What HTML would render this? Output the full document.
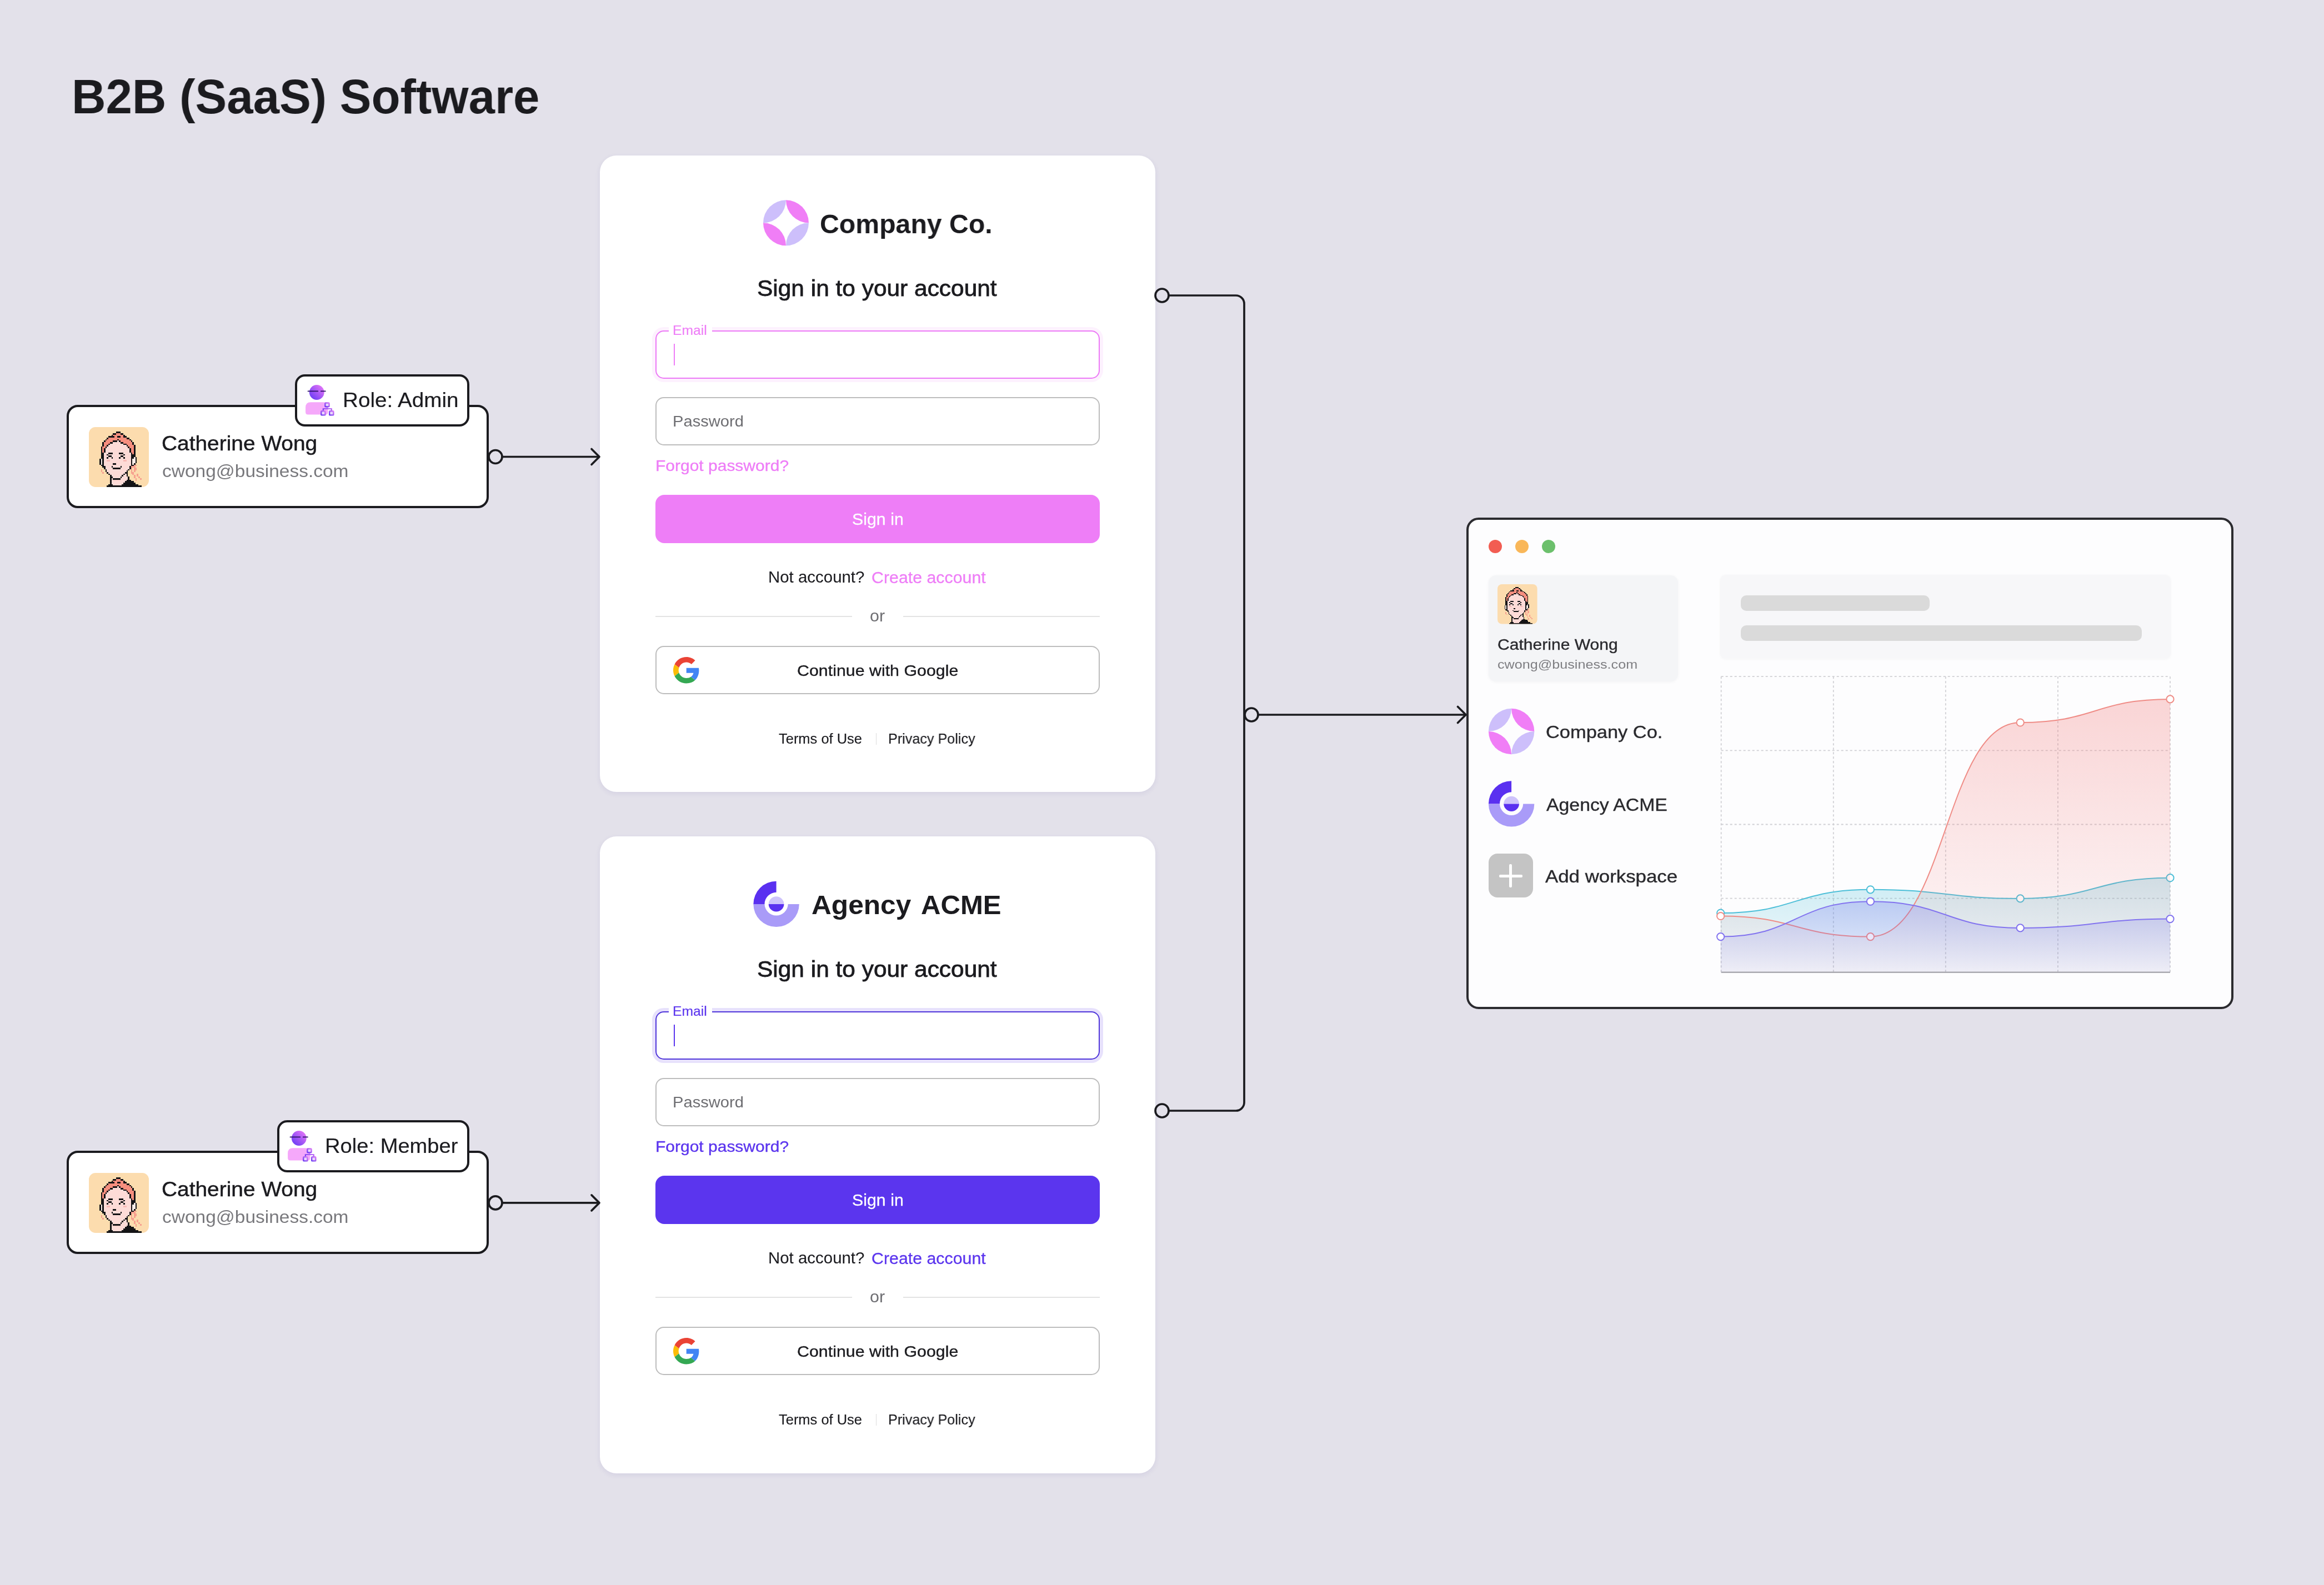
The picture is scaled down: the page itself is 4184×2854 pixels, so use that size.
<!DOCTYPE html>
<html><head><meta charset="utf-8"><title>B2B (SaaS) Software</title>
<style>
html,body{margin:0;padding:0}
body{width:4184px;height:2854px;background:#E3E1EA;position:relative;overflow:hidden;font-family:"Liberation Sans",sans-serif}
.t{position:absolute;white-space:nowrap;line-height:1;transform-origin:0 0;will-change:transform}
.abs{position:absolute;box-sizing:border-box}
svg{position:absolute;overflow:visible}
</style></head><body>

<div class="abs" style="left:1080px;top:280px;width:1000px;height:1146px;background:#fff;border-radius:30px;box-shadow:0 3px 10px rgba(70,50,150,0.09)"></div>
<svg style="left:0;top:0" width="4184" height="2854"><path fill="#F07EF6" d="M1415.00,360.30 A41,41 0 0 1 1456.00,401.30 A41,41 0 0 1 1415.00,360.30 Z"/><path fill="#CDBFFB" d="M1415.00,360.30 A41,41 0 0 0 1374.00,401.30 A41,41 0 0 0 1415.00,360.30 Z"/><path fill="#F07EF6" d="M1415.00,442.30 A41,41 0 0 1 1374.00,401.30 A41,41 0 0 1 1415.00,442.30 Z"/><path fill="#CDBFFB" d="M1415.00,442.30 A41,41 0 0 0 1456.00,401.30 A41,41 0 0 0 1415.00,442.30 Z"/></svg>
<div class="abs" style="left:1180px;top:594.5px;width:800px;height:87px;border:2.4px solid #EC7AF6;border-radius:15px;box-shadow:0 0 0 6px rgba(238,126,247,0.11)"></div>
<div class="abs" style="left:1204px;top:585px;width:78px;height:15px;background:#fff"></div>
<div class="abs" style="left:1212.5px;top:619px;width:2.5px;height:39px;background:#EE7EF7"></div>
<div class="abs" style="left:1180px;top:715px;width:800px;height:86.5px;border:2.5px solid #BDBDBD;border-radius:15px"></div>
<div class="abs" style="left:1180px;top:890.5px;width:800px;height:87.5px;background:#EE7EF7;border-radius:16px"></div>
<div class="abs" style="left:1180px;top:1109px;width:353.7px;height:2px;background:#E3E3E3"></div>
<div class="abs" style="left:1626px;top:1109px;width:354px;height:2px;background:#E3E3E3"></div>
<div class="abs" style="left:1180px;top:1163px;width:800px;height:86.5px;border:2.5px solid #BDBDBD;border-radius:15px"></div>
<svg style="left:1211.8px;top:1182.7px" width="47.4" height="47.6" viewBox="0 0 48 48"><path fill="#EA4335" d="M24 9.5c3.54 0 6.71 1.22 9.21 3.6l6.85-6.85C35.9 2.38 30.47 0 24 0 14.62 0 6.51 5.38 2.56 13.22l7.98 6.19C12.43 13.72 17.74 9.5 24 9.5z"/><path fill="#4285F4" d="M46.98 24.55c0-1.570-.15-3.09-.38-4.55H24v9.02h12.94c-.58 2.96-2.26 5.48-4.78 7.18l7.73 6c4.51-4.18 7.09-10.36 7.09-17.65z"/><path fill="#FBBC05" d="M10.53 28.59c-.48-1.45-.76-2.990-.76-4.59s.27-3.14.76-4.59l-7.98-6.19C.92 16.46 0 20.12 0 24c0 3.88.92 7.54 2.56 10.78l7.97-6.19z"/><path fill="#34A853" d="M24 48c6.48 0 11.93-2.13 15.89-5.81l-7.730-6c-2.15 1.45-4.92 2.3-8.16 2.3-6.26 0-11.57-4.22-13.47-9.91l-7.98 6.19C6.51 42.62 14.62 48 24 48z"/></svg>
<div class="abs" style="left:1576.5px;top:1320px;width:1.5px;height:21px;background:#DCDCDC"></div>
<div class="abs" style="left:1080px;top:1506px;width:1000px;height:1147px;background:#fff;border-radius:30px;box-shadow:0 3px 10px rgba(70,50,150,0.09)"></div>
<svg style="left:0;top:0" width="4184" height="2854"><path fill="#5A30F0" d="M1356.40,1627.90 A41.2,41.2 0 0 1 1397.60,1586.70 L1397.60,1606.81 A21.0944,21.0944 0 0 0 1376.51,1627.90 Z"/><path fill="#A99BF8" d="M1356.40,1627.90 A41.2,41.2 0 0 0 1438.80,1627.90 L1418.69,1627.90 A21.0944,21.0944 0 0 1 1376.51,1627.90 Z"/><path fill="#CEC3FB" d="M1383.72,1627.90 A13.884400000000001,13.884400000000001 0 0 1 1411.48,1627.90 Z"/><path fill="#5A30F0" d="M1383.72,1627.90 A13.884400000000001,13.884400000000001 0 0 0 1411.48,1627.90 Z"/></svg>
<div class="abs" style="left:1180px;top:1820.5px;width:800px;height:87px;border:2.4px solid #5036DA;border-radius:15px;box-shadow:0 0 0 6px rgba(91,53,238,0.15)"></div>
<div class="abs" style="left:1204px;top:1811px;width:78px;height:15px;background:#fff"></div>
<div class="abs" style="left:1212.5px;top:1845px;width:2.5px;height:39px;background:#5B35EE"></div>
<div class="abs" style="left:1180px;top:1941px;width:800px;height:86.5px;border:2.5px solid #BDBDBD;border-radius:15px"></div>
<div class="abs" style="left:1180px;top:2116.5px;width:800px;height:87.5px;background:#5B35EE;border-radius:16px"></div>
<div class="abs" style="left:1180px;top:2335px;width:353.7px;height:2px;background:#E3E3E3"></div>
<div class="abs" style="left:1626px;top:2335px;width:354px;height:2px;background:#E3E3E3"></div>
<div class="abs" style="left:1180px;top:2389px;width:800px;height:86.5px;border:2.5px solid #BDBDBD;border-radius:15px"></div>
<svg style="left:1211.8px;top:2408.7px" width="47.4" height="47.6" viewBox="0 0 48 48"><path fill="#EA4335" d="M24 9.5c3.54 0 6.71 1.22 9.21 3.6l6.85-6.85C35.9 2.38 30.47 0 24 0 14.62 0 6.51 5.38 2.56 13.22l7.98 6.19C12.43 13.72 17.74 9.5 24 9.5z"/><path fill="#4285F4" d="M46.98 24.55c0-1.570-.15-3.09-.38-4.55H24v9.02h12.94c-.58 2.96-2.26 5.48-4.78 7.18l7.73 6c4.51-4.18 7.09-10.36 7.09-17.65z"/><path fill="#FBBC05" d="M10.53 28.59c-.48-1.45-.76-2.990-.76-4.59s.27-3.14.76-4.59l-7.98-6.19C.92 16.46 0 20.12 0 24c0 3.88.92 7.54 2.56 10.78l7.97-6.19z"/><path fill="#34A853" d="M24 48c6.48 0 11.93-2.13 15.89-5.81l-7.730-6c-2.15 1.45-4.92 2.3-8.16 2.3-6.26 0-11.57-4.22-13.47-9.91l-7.98 6.19C6.51 42.62 14.62 48 24 48z"/></svg>
<div class="abs" style="left:1576.5px;top:2546px;width:1.5px;height:21px;background:#DCDCDC"></div>
<div class="abs" style="left:120px;top:729px;width:760px;height:186px;background:#fff;border:4px solid #1B1B1F;border-radius:20px"></div>
<svg style="left:160.2px;top:768.5px" width="108" height="108" viewBox="0 0 40 40" shape-rendering="crispEdges"><defs><clipPath id="av160768"><rect width="40" height="40" rx="4.40" shape-rendering="geometricPrecision"/></clipPath></defs><g clip-path="url(#av160768)"><rect width="40" height="40" fill="#FCDCAE"/><rect x="18" y="3" width="3" height="1" fill="#141416"/><rect x="16" y="4" width="2" height="1" fill="#141416"/><rect x="18" y="4" width="3" height="1" fill="#F68E7E"/><rect x="21" y="4" width="2" height="1" fill="#141416"/><rect x="15" y="5" width="1" height="1" fill="#141416"/><rect x="16" y="5" width="7" height="1" fill="#F68E7E"/><rect x="23" y="5" width="1" height="1" fill="#141416"/><rect x="13" y="6" width="4" height="1" fill="#141416"/><rect x="17" y="6" width="2" height="1" fill="#F68E7E"/><rect x="19" y="6" width="2" height="1" fill="#141416"/><rect x="21" y="6" width="2" height="1" fill="#F68E7E"/><rect x="23" y="6" width="2" height="1" fill="#141416"/><rect x="12" y="7" width="1" height="1" fill="#141416"/><rect x="13" y="7" width="12" height="1" fill="#F68E7E"/><rect x="25" y="7" width="2" height="1" fill="#141416"/><rect x="11" y="8" width="1" height="1" fill="#141416"/><rect x="12" y="8" width="7" height="1" fill="#F68E7E"/><rect x="19" y="8" width="1" height="1" fill="#141416"/><rect x="20" y="8" width="7" height="1" fill="#F68E7E"/><rect x="27" y="8" width="1" height="1" fill="#141416"/><rect x="10" y="9" width="1" height="1" fill="#141416"/><rect x="11" y="9" width="5" height="1" fill="#F68E7E"/><rect x="16" y="9" width="3" height="1" fill="#141416"/><rect x="19" y="9" width="1" height="1" fill="#FDDBD7"/><rect x="20" y="9" width="1" height="1" fill="#141416"/><rect x="21" y="9" width="7" height="1" fill="#F68E7E"/><rect x="28" y="9" width="1" height="1" fill="#141416"/><rect x="9" y="10" width="1" height="1" fill="#141416"/><rect x="10" y="10" width="4" height="1" fill="#F68E7E"/><rect x="14" y="10" width="2" height="1" fill="#141416"/><rect x="16" y="10" width="5" height="1" fill="#FDDBD7"/><rect x="21" y="10" width="2" height="1" fill="#141416"/><rect x="23" y="10" width="6" height="1" fill="#F68E7E"/><rect x="29" y="10" width="1" height="1" fill="#141416"/><rect x="9" y="11" width="1" height="1" fill="#141416"/><rect x="10" y="11" width="3" height="1" fill="#F68E7E"/><rect x="13" y="11" width="1" height="1" fill="#141416"/><rect x="14" y="11" width="9" height="1" fill="#FDDBD7"/><rect x="23" y="11" width="2" height="1" fill="#141416"/><rect x="25" y="11" width="4" height="1" fill="#F68E7E"/><rect x="29" y="11" width="1" height="1" fill="#141416"/><rect x="9" y="12" width="1" height="1" fill="#141416"/><rect x="10" y="12" width="2" height="1" fill="#F68E7E"/><rect x="12" y="12" width="1" height="1" fill="#141416"/><rect x="13" y="12" width="12" height="1" fill="#FDDBD7"/><rect x="25" y="12" width="1" height="1" fill="#141416"/><rect x="26" y="12" width="4" height="1" fill="#F68E7E"/><rect x="30" y="12" width="1" height="1" fill="#141416"/><rect x="8" y="13" width="1" height="1" fill="#141416"/><rect x="9" y="13" width="2" height="1" fill="#F68E7E"/><rect x="11" y="13" width="1" height="1" fill="#141416"/><rect x="12" y="13" width="14" height="1" fill="#FDDBD7"/><rect x="26" y="13" width="1" height="1" fill="#141416"/><rect x="27" y="13" width="3" height="1" fill="#F68E7E"/><rect x="30" y="13" width="1" height="1" fill="#141416"/><rect x="8" y="14" width="1" height="1" fill="#141416"/><rect x="9" y="14" width="1" height="1" fill="#F68E7E"/><rect x="10" y="14" width="1" height="1" fill="#141416"/><rect x="11" y="14" width="16" height="1" fill="#FDDBD7"/><rect x="27" y="14" width="1" height="1" fill="#141416"/><rect x="28" y="14" width="2" height="1" fill="#F68E7E"/><rect x="30" y="14" width="1" height="1" fill="#141416"/><rect x="8" y="15" width="1" height="1" fill="#141416"/><rect x="9" y="15" width="1" height="1" fill="#F68E7E"/><rect x="10" y="15" width="1" height="1" fill="#141416"/><rect x="11" y="15" width="16" height="1" fill="#FDDBD7"/><rect x="27" y="15" width="1" height="1" fill="#141416"/><rect x="28" y="15" width="2" height="1" fill="#F68E7E"/><rect x="30" y="15" width="1" height="1" fill="#141416"/><rect x="8" y="16" width="1" height="1" fill="#141416"/><rect x="9" y="16" width="1" height="1" fill="#F68E7E"/><rect x="10" y="16" width="1" height="1" fill="#141416"/><rect x="11" y="16" width="16" height="1" fill="#FDDBD7"/><rect x="27" y="16" width="1" height="1" fill="#141416"/><rect x="28" y="16" width="2" height="1" fill="#F68E7E"/><rect x="30" y="16" width="1" height="1" fill="#141416"/><rect x="8" y="17" width="2" height="1" fill="#141416"/><rect x="10" y="17" width="3" height="1" fill="#FDDBD7"/><rect x="13" y="17" width="3" height="1" fill="#141416"/><rect x="16" y="17" width="4" height="1" fill="#FDDBD7"/><rect x="20" y="17" width="3" height="1" fill="#141416"/><rect x="23" y="17" width="5" height="1" fill="#FDDBD7"/><rect x="28" y="17" width="1" height="1" fill="#141416"/><rect x="29" y="17" width="1" height="1" fill="#F68E7E"/><rect x="30" y="17" width="1" height="1" fill="#141416"/><rect x="8" y="18" width="2" height="1" fill="#141416"/><rect x="10" y="18" width="2" height="1" fill="#FDDBD7"/><rect x="12" y="18" width="1" height="1" fill="#141416"/><rect x="13" y="18" width="10" height="1" fill="#FDDBD7"/><rect x="23" y="18" width="1" height="1" fill="#141416"/><rect x="24" y="18" width="4" height="1" fill="#FDDBD7"/><rect x="28" y="18" width="3" height="1" fill="#141416"/><rect x="8" y="19" width="2" height="1" fill="#141416"/><rect x="10" y="19" width="3" height="1" fill="#FDDBD7"/><rect x="13" y="19" width="2" height="1" fill="#141416"/><rect x="15" y="19" width="6" height="1" fill="#FDDBD7"/><rect x="21" y="19" width="2" height="1" fill="#141416"/><rect x="23" y="19" width="5" height="1" fill="#FDDBD7"/><rect x="28" y="19" width="3" height="1" fill="#141416"/><rect x="8" y="20" width="2" height="1" fill="#141416"/><rect x="10" y="20" width="2" height="1" fill="#FDDBD7"/><rect x="12" y="20" width="1" height="1" fill="#141416"/><rect x="13" y="20" width="2" height="1" fill="#FDDBD7"/><rect x="15" y="20" width="1" height="1" fill="#141416"/><rect x="16" y="20" width="4" height="1" fill="#FDDBD7"/><rect x="20" y="20" width="1" height="1" fill="#141416"/><rect x="21" y="20" width="2" height="1" fill="#FDDBD7"/><rect x="23" y="20" width="1" height="1" fill="#141416"/><rect x="24" y="20" width="4" height="1" fill="#FDDBD7"/><rect x="28" y="20" width="2" height="1" fill="#141416"/><rect x="30" y="20" width="1" height="1" fill="#FCEDE8"/><rect x="31" y="20" width="1" height="1" fill="#141416"/><rect x="7" y="21" width="1" height="1" fill="#141416"/><rect x="8" y="21" width="1" height="1" fill="#FCEDE8"/><rect x="9" y="21" width="1" height="1" fill="#141416"/><rect x="10" y="21" width="18" height="1" fill="#FDDBD7"/><rect x="28" y="21" width="1" height="1" fill="#141416"/><rect x="29" y="21" width="2" height="1" fill="#FCEDE8"/><rect x="31" y="21" width="1" height="1" fill="#141416"/><rect x="7" y="22" width="1" height="1" fill="#141416"/><rect x="8" y="22" width="1" height="1" fill="#FCEDE8"/><rect x="9" y="22" width="1" height="1" fill="#141416"/><rect x="10" y="22" width="2" height="1" fill="#FDDBD7"/><rect x="12" y="22" width="2" height="1" fill="#F8BAB6"/><rect x="14" y="22" width="9" height="1" fill="#FDDBD7"/><rect x="23" y="22" width="2" height="1" fill="#F8BAB6"/><rect x="25" y="22" width="3" height="1" fill="#FDDBD7"/><rect x="28" y="22" width="1" height="1" fill="#141416"/><rect x="29" y="22" width="2" height="1" fill="#FCEDE8"/><rect x="31" y="22" width="1" height="1" fill="#141416"/><rect x="7" y="23" width="1" height="1" fill="#141416"/><rect x="8" y="23" width="1" height="1" fill="#FCEDE8"/><rect x="9" y="23" width="1" height="1" fill="#141416"/><rect x="10" y="23" width="18" height="1" fill="#FDDBD7"/><rect x="28" y="23" width="1" height="1" fill="#141416"/><rect x="29" y="23" width="2" height="1" fill="#FCEDE8"/><rect x="31" y="23" width="1" height="1" fill="#141416"/><rect x="7" y="24" width="1" height="1" fill="#141416"/><rect x="8" y="24" width="1" height="1" fill="#FCEDE8"/><rect x="9" y="24" width="1" height="1" fill="#141416"/><rect x="10" y="24" width="6" height="1" fill="#FDDBD7"/><rect x="16" y="24" width="2" height="1" fill="#141416"/><rect x="18" y="24" width="10" height="1" fill="#FDDBD7"/><rect x="28" y="24" width="1" height="1" fill="#141416"/><rect x="29" y="24" width="1" height="1" fill="#FCEDE8"/><rect x="30" y="24" width="1" height="1" fill="#141416"/><rect x="8" y="25" width="2" height="1" fill="#141416"/><rect x="10" y="25" width="18" height="1" fill="#FDDBD7"/><rect x="28" y="25" width="2" height="1" fill="#141416"/><rect x="30" y="25" width="2" height="1" fill="#F7A08F"/><rect x="9" y="26" width="2" height="1" fill="#141416"/><rect x="11" y="26" width="4" height="1" fill="#FDDBD7"/><rect x="15" y="26" width="1" height="1" fill="#141416"/><rect x="16" y="26" width="5" height="1" fill="#FDDBD7"/><rect x="21" y="26" width="1" height="1" fill="#141416"/><rect x="22" y="26" width="5" height="1" fill="#FDDBD7"/><rect x="27" y="26" width="1" height="1" fill="#141416"/><rect x="28" y="26" width="3" height="1" fill="#F7A08F"/><rect x="10" y="27" width="1" height="1" fill="#141416"/><rect x="11" y="27" width="5" height="1" fill="#FDDBD7"/><rect x="16" y="27" width="5" height="1" fill="#141416"/><rect x="21" y="27" width="6" height="1" fill="#FDDBD7"/><rect x="27" y="27" width="1" height="1" fill="#141416"/><rect x="28" y="27" width="1" height="1" fill="#F7A08F"/><rect x="30" y="27" width="2" height="1" fill="#F7A08F"/><rect x="8" y="28" width="1" height="1" fill="#F7A08F"/><rect x="11" y="28" width="1" height="1" fill="#141416"/><rect x="12" y="28" width="14" height="1" fill="#FDDBD7"/><rect x="26" y="28" width="1" height="1" fill="#141416"/><rect x="28" y="28" width="1" height="1" fill="#F7A08F"/><rect x="30" y="28" width="2" height="1" fill="#F7A08F"/><rect x="8" y="29" width="1" height="1" fill="#F7A08F"/><rect x="11" y="29" width="1" height="1" fill="#141416"/><rect x="12" y="29" width="13" height="1" fill="#FDDBD7"/><rect x="25" y="29" width="1" height="1" fill="#141416"/><rect x="28" y="29" width="1" height="1" fill="#F7A08F"/><rect x="30" y="29" width="1" height="1" fill="#F7A08F"/><rect x="9" y="30" width="1" height="1" fill="#F7A08F"/><rect x="12" y="30" width="1" height="1" fill="#141416"/><rect x="13" y="30" width="11" height="1" fill="#FDDBD7"/><rect x="24" y="30" width="2" height="1" fill="#141416"/><rect x="28" y="30" width="2" height="1" fill="#F7A08F"/><rect x="13" y="31" width="1" height="1" fill="#141416"/><rect x="14" y="31" width="9" height="1" fill="#FDDBD7"/><rect x="23" y="31" width="1" height="1" fill="#141416"/><rect x="24" y="31" width="1" height="1" fill="#FDDBD7"/><rect x="25" y="31" width="1" height="1" fill="#141416"/><rect x="29" y="31" width="1" height="1" fill="#F7A08F"/><rect x="32" y="31" width="1" height="1" fill="#F7A08F"/><rect x="14" y="32" width="1" height="1" fill="#141416"/><rect x="15" y="32" width="7" height="1" fill="#FDDBD7"/><rect x="22" y="32" width="1" height="1" fill="#141416"/><rect x="23" y="32" width="2" height="1" fill="#FDDBD7"/><rect x="25" y="32" width="1" height="1" fill="#141416"/><rect x="30" y="32" width="1" height="1" fill="#F7A08F"/><rect x="32" y="32" width="1" height="1" fill="#F7A08F"/><rect x="14" y="33" width="2" height="1" fill="#141416"/><rect x="16" y="33" width="5" height="1" fill="#FDDBD7"/><rect x="21" y="33" width="1" height="1" fill="#141416"/><rect x="22" y="33" width="4" height="1" fill="#FDDBD7"/><rect x="26" y="33" width="1" height="1" fill="#141416"/><rect x="30" y="33" width="1" height="1" fill="#F7A08F"/><rect x="33" y="33" width="1" height="1" fill="#F7A08F"/><rect x="14" y="34" width="1" height="1" fill="#141416"/><rect x="15" y="34" width="1" height="1" fill="#FDDBD7"/><rect x="16" y="34" width="5" height="1" fill="#141416"/><rect x="21" y="34" width="5" height="1" fill="#FDDBD7"/><rect x="26" y="34" width="1" height="1" fill="#141416"/><rect x="31" y="34" width="1" height="1" fill="#F7A08F"/><rect x="34" y="34" width="1" height="1" fill="#F7A08F"/><rect x="14" y="35" width="1" height="1" fill="#141416"/><rect x="15" y="35" width="1" height="1" fill="#FDDBD7"/><rect x="16" y="35" width="5" height="1" fill="#F8CFCB"/><rect x="21" y="35" width="4" height="1" fill="#FDDBD7"/><rect x="25" y="35" width="3" height="1" fill="#141416"/><rect x="31" y="35" width="1" height="1" fill="#F7A08F"/><rect x="14" y="36" width="1" height="1" fill="#141416"/><rect x="15" y="36" width="9" height="1" fill="#FDDBD7"/><rect x="24" y="36" width="6" height="1" fill="#141416"/><rect x="14" y="37" width="1" height="1" fill="#141416"/><rect x="15" y="37" width="8" height="1" fill="#FDDBD7"/><rect x="23" y="37" width="8" height="1" fill="#141416"/><rect x="13" y="38" width="3" height="1" fill="#141416"/><rect x="16" y="38" width="6" height="1" fill="#FDDBD7"/><rect x="22" y="38" width="11" height="1" fill="#141416"/><rect x="12" y="39" width="23" height="1" fill="#141416"/></g></svg>
<div class="abs" style="left:531px;top:674px;width:314.3px;height:93.7px;background:#fff;border:4px solid #1B1B1F;border-radius:18px"></div>
<svg style="left:540px;top:680px" width="80" height="80" viewBox="0 0 80 80"><defs><linearGradient id="rh680" x1="0" y1="1" x2="1" y2="0"><stop offset="0" stop-color="#5B35F5"/><stop offset="1" stop-color="#F37CF7"/></linearGradient><linearGradient id="rs680" x1="0" y1="1" x2="1" y2="0"><stop offset="0" stop-color="#6A3CF2"/><stop offset="1" stop-color="#D97CF6"/></linearGradient></defs><circle cx="30.3" cy="26.5" r="13.4" fill="url(#rh680)"/><path d="M14.6,24.4 H32.2 M37.9,24.4 H45.8" stroke="#2A1166" stroke-width="1.9" stroke-linecap="round"/><path d="M19.5,44.2 H42 Q50.5,44.2 50.5,52 V62 Q50.5,66.6 46,66.6 H14.5 Q10.1,66.6 10.1,62 V53.6 Q10.1,44.2 19.5,44.2 Z" fill="#F5A8FA"/><g stroke="url(#rs680)" stroke-width="2.4" fill="#EBD8FB"><rect x="45.4" y="45.5" width="7.2" height="6.8" rx="1"/><rect x="38.3" y="60.2" width="7.2" height="7.2" rx="1"/><rect x="53.2" y="60.2" width="7.2" height="7.2" rx="1"/></g><path d="M49,53.5 V56 M41.9,59 V56 H56.8 V59" stroke="url(#rs680)" stroke-width="2.2" fill="none"/></svg>
<div class="abs" style="left:120px;top:2072.4px;width:760px;height:186px;background:#fff;border:4px solid #1B1B1F;border-radius:20px"></div>
<svg style="left:160.2px;top:2111.9px" width="108" height="108" viewBox="0 0 40 40" shape-rendering="crispEdges"><defs><clipPath id="av1602111"><rect width="40" height="40" rx="4.40" shape-rendering="geometricPrecision"/></clipPath></defs><g clip-path="url(#av1602111)"><rect width="40" height="40" fill="#FCDCAE"/><rect x="18" y="3" width="3" height="1" fill="#141416"/><rect x="16" y="4" width="2" height="1" fill="#141416"/><rect x="18" y="4" width="3" height="1" fill="#F68E7E"/><rect x="21" y="4" width="2" height="1" fill="#141416"/><rect x="15" y="5" width="1" height="1" fill="#141416"/><rect x="16" y="5" width="7" height="1" fill="#F68E7E"/><rect x="23" y="5" width="1" height="1" fill="#141416"/><rect x="13" y="6" width="4" height="1" fill="#141416"/><rect x="17" y="6" width="2" height="1" fill="#F68E7E"/><rect x="19" y="6" width="2" height="1" fill="#141416"/><rect x="21" y="6" width="2" height="1" fill="#F68E7E"/><rect x="23" y="6" width="2" height="1" fill="#141416"/><rect x="12" y="7" width="1" height="1" fill="#141416"/><rect x="13" y="7" width="12" height="1" fill="#F68E7E"/><rect x="25" y="7" width="2" height="1" fill="#141416"/><rect x="11" y="8" width="1" height="1" fill="#141416"/><rect x="12" y="8" width="7" height="1" fill="#F68E7E"/><rect x="19" y="8" width="1" height="1" fill="#141416"/><rect x="20" y="8" width="7" height="1" fill="#F68E7E"/><rect x="27" y="8" width="1" height="1" fill="#141416"/><rect x="10" y="9" width="1" height="1" fill="#141416"/><rect x="11" y="9" width="5" height="1" fill="#F68E7E"/><rect x="16" y="9" width="3" height="1" fill="#141416"/><rect x="19" y="9" width="1" height="1" fill="#FDDBD7"/><rect x="20" y="9" width="1" height="1" fill="#141416"/><rect x="21" y="9" width="7" height="1" fill="#F68E7E"/><rect x="28" y="9" width="1" height="1" fill="#141416"/><rect x="9" y="10" width="1" height="1" fill="#141416"/><rect x="10" y="10" width="4" height="1" fill="#F68E7E"/><rect x="14" y="10" width="2" height="1" fill="#141416"/><rect x="16" y="10" width="5" height="1" fill="#FDDBD7"/><rect x="21" y="10" width="2" height="1" fill="#141416"/><rect x="23" y="10" width="6" height="1" fill="#F68E7E"/><rect x="29" y="10" width="1" height="1" fill="#141416"/><rect x="9" y="11" width="1" height="1" fill="#141416"/><rect x="10" y="11" width="3" height="1" fill="#F68E7E"/><rect x="13" y="11" width="1" height="1" fill="#141416"/><rect x="14" y="11" width="9" height="1" fill="#FDDBD7"/><rect x="23" y="11" width="2" height="1" fill="#141416"/><rect x="25" y="11" width="4" height="1" fill="#F68E7E"/><rect x="29" y="11" width="1" height="1" fill="#141416"/><rect x="9" y="12" width="1" height="1" fill="#141416"/><rect x="10" y="12" width="2" height="1" fill="#F68E7E"/><rect x="12" y="12" width="1" height="1" fill="#141416"/><rect x="13" y="12" width="12" height="1" fill="#FDDBD7"/><rect x="25" y="12" width="1" height="1" fill="#141416"/><rect x="26" y="12" width="4" height="1" fill="#F68E7E"/><rect x="30" y="12" width="1" height="1" fill="#141416"/><rect x="8" y="13" width="1" height="1" fill="#141416"/><rect x="9" y="13" width="2" height="1" fill="#F68E7E"/><rect x="11" y="13" width="1" height="1" fill="#141416"/><rect x="12" y="13" width="14" height="1" fill="#FDDBD7"/><rect x="26" y="13" width="1" height="1" fill="#141416"/><rect x="27" y="13" width="3" height="1" fill="#F68E7E"/><rect x="30" y="13" width="1" height="1" fill="#141416"/><rect x="8" y="14" width="1" height="1" fill="#141416"/><rect x="9" y="14" width="1" height="1" fill="#F68E7E"/><rect x="10" y="14" width="1" height="1" fill="#141416"/><rect x="11" y="14" width="16" height="1" fill="#FDDBD7"/><rect x="27" y="14" width="1" height="1" fill="#141416"/><rect x="28" y="14" width="2" height="1" fill="#F68E7E"/><rect x="30" y="14" width="1" height="1" fill="#141416"/><rect x="8" y="15" width="1" height="1" fill="#141416"/><rect x="9" y="15" width="1" height="1" fill="#F68E7E"/><rect x="10" y="15" width="1" height="1" fill="#141416"/><rect x="11" y="15" width="16" height="1" fill="#FDDBD7"/><rect x="27" y="15" width="1" height="1" fill="#141416"/><rect x="28" y="15" width="2" height="1" fill="#F68E7E"/><rect x="30" y="15" width="1" height="1" fill="#141416"/><rect x="8" y="16" width="1" height="1" fill="#141416"/><rect x="9" y="16" width="1" height="1" fill="#F68E7E"/><rect x="10" y="16" width="1" height="1" fill="#141416"/><rect x="11" y="16" width="16" height="1" fill="#FDDBD7"/><rect x="27" y="16" width="1" height="1" fill="#141416"/><rect x="28" y="16" width="2" height="1" fill="#F68E7E"/><rect x="30" y="16" width="1" height="1" fill="#141416"/><rect x="8" y="17" width="2" height="1" fill="#141416"/><rect x="10" y="17" width="3" height="1" fill="#FDDBD7"/><rect x="13" y="17" width="3" height="1" fill="#141416"/><rect x="16" y="17" width="4" height="1" fill="#FDDBD7"/><rect x="20" y="17" width="3" height="1" fill="#141416"/><rect x="23" y="17" width="5" height="1" fill="#FDDBD7"/><rect x="28" y="17" width="1" height="1" fill="#141416"/><rect x="29" y="17" width="1" height="1" fill="#F68E7E"/><rect x="30" y="17" width="1" height="1" fill="#141416"/><rect x="8" y="18" width="2" height="1" fill="#141416"/><rect x="10" y="18" width="2" height="1" fill="#FDDBD7"/><rect x="12" y="18" width="1" height="1" fill="#141416"/><rect x="13" y="18" width="10" height="1" fill="#FDDBD7"/><rect x="23" y="18" width="1" height="1" fill="#141416"/><rect x="24" y="18" width="4" height="1" fill="#FDDBD7"/><rect x="28" y="18" width="3" height="1" fill="#141416"/><rect x="8" y="19" width="2" height="1" fill="#141416"/><rect x="10" y="19" width="3" height="1" fill="#FDDBD7"/><rect x="13" y="19" width="2" height="1" fill="#141416"/><rect x="15" y="19" width="6" height="1" fill="#FDDBD7"/><rect x="21" y="19" width="2" height="1" fill="#141416"/><rect x="23" y="19" width="5" height="1" fill="#FDDBD7"/><rect x="28" y="19" width="3" height="1" fill="#141416"/><rect x="8" y="20" width="2" height="1" fill="#141416"/><rect x="10" y="20" width="2" height="1" fill="#FDDBD7"/><rect x="12" y="20" width="1" height="1" fill="#141416"/><rect x="13" y="20" width="2" height="1" fill="#FDDBD7"/><rect x="15" y="20" width="1" height="1" fill="#141416"/><rect x="16" y="20" width="4" height="1" fill="#FDDBD7"/><rect x="20" y="20" width="1" height="1" fill="#141416"/><rect x="21" y="20" width="2" height="1" fill="#FDDBD7"/><rect x="23" y="20" width="1" height="1" fill="#141416"/><rect x="24" y="20" width="4" height="1" fill="#FDDBD7"/><rect x="28" y="20" width="2" height="1" fill="#141416"/><rect x="30" y="20" width="1" height="1" fill="#FCEDE8"/><rect x="31" y="20" width="1" height="1" fill="#141416"/><rect x="7" y="21" width="1" height="1" fill="#141416"/><rect x="8" y="21" width="1" height="1" fill="#FCEDE8"/><rect x="9" y="21" width="1" height="1" fill="#141416"/><rect x="10" y="21" width="18" height="1" fill="#FDDBD7"/><rect x="28" y="21" width="1" height="1" fill="#141416"/><rect x="29" y="21" width="2" height="1" fill="#FCEDE8"/><rect x="31" y="21" width="1" height="1" fill="#141416"/><rect x="7" y="22" width="1" height="1" fill="#141416"/><rect x="8" y="22" width="1" height="1" fill="#FCEDE8"/><rect x="9" y="22" width="1" height="1" fill="#141416"/><rect x="10" y="22" width="2" height="1" fill="#FDDBD7"/><rect x="12" y="22" width="2" height="1" fill="#F8BAB6"/><rect x="14" y="22" width="9" height="1" fill="#FDDBD7"/><rect x="23" y="22" width="2" height="1" fill="#F8BAB6"/><rect x="25" y="22" width="3" height="1" fill="#FDDBD7"/><rect x="28" y="22" width="1" height="1" fill="#141416"/><rect x="29" y="22" width="2" height="1" fill="#FCEDE8"/><rect x="31" y="22" width="1" height="1" fill="#141416"/><rect x="7" y="23" width="1" height="1" fill="#141416"/><rect x="8" y="23" width="1" height="1" fill="#FCEDE8"/><rect x="9" y="23" width="1" height="1" fill="#141416"/><rect x="10" y="23" width="18" height="1" fill="#FDDBD7"/><rect x="28" y="23" width="1" height="1" fill="#141416"/><rect x="29" y="23" width="2" height="1" fill="#FCEDE8"/><rect x="31" y="23" width="1" height="1" fill="#141416"/><rect x="7" y="24" width="1" height="1" fill="#141416"/><rect x="8" y="24" width="1" height="1" fill="#FCEDE8"/><rect x="9" y="24" width="1" height="1" fill="#141416"/><rect x="10" y="24" width="6" height="1" fill="#FDDBD7"/><rect x="16" y="24" width="2" height="1" fill="#141416"/><rect x="18" y="24" width="10" height="1" fill="#FDDBD7"/><rect x="28" y="24" width="1" height="1" fill="#141416"/><rect x="29" y="24" width="1" height="1" fill="#FCEDE8"/><rect x="30" y="24" width="1" height="1" fill="#141416"/><rect x="8" y="25" width="2" height="1" fill="#141416"/><rect x="10" y="25" width="18" height="1" fill="#FDDBD7"/><rect x="28" y="25" width="2" height="1" fill="#141416"/><rect x="30" y="25" width="2" height="1" fill="#F7A08F"/><rect x="9" y="26" width="2" height="1" fill="#141416"/><rect x="11" y="26" width="4" height="1" fill="#FDDBD7"/><rect x="15" y="26" width="1" height="1" fill="#141416"/><rect x="16" y="26" width="5" height="1" fill="#FDDBD7"/><rect x="21" y="26" width="1" height="1" fill="#141416"/><rect x="22" y="26" width="5" height="1" fill="#FDDBD7"/><rect x="27" y="26" width="1" height="1" fill="#141416"/><rect x="28" y="26" width="3" height="1" fill="#F7A08F"/><rect x="10" y="27" width="1" height="1" fill="#141416"/><rect x="11" y="27" width="5" height="1" fill="#FDDBD7"/><rect x="16" y="27" width="5" height="1" fill="#141416"/><rect x="21" y="27" width="6" height="1" fill="#FDDBD7"/><rect x="27" y="27" width="1" height="1" fill="#141416"/><rect x="28" y="27" width="1" height="1" fill="#F7A08F"/><rect x="30" y="27" width="2" height="1" fill="#F7A08F"/><rect x="8" y="28" width="1" height="1" fill="#F7A08F"/><rect x="11" y="28" width="1" height="1" fill="#141416"/><rect x="12" y="28" width="14" height="1" fill="#FDDBD7"/><rect x="26" y="28" width="1" height="1" fill="#141416"/><rect x="28" y="28" width="1" height="1" fill="#F7A08F"/><rect x="30" y="28" width="2" height="1" fill="#F7A08F"/><rect x="8" y="29" width="1" height="1" fill="#F7A08F"/><rect x="11" y="29" width="1" height="1" fill="#141416"/><rect x="12" y="29" width="13" height="1" fill="#FDDBD7"/><rect x="25" y="29" width="1" height="1" fill="#141416"/><rect x="28" y="29" width="1" height="1" fill="#F7A08F"/><rect x="30" y="29" width="1" height="1" fill="#F7A08F"/><rect x="9" y="30" width="1" height="1" fill="#F7A08F"/><rect x="12" y="30" width="1" height="1" fill="#141416"/><rect x="13" y="30" width="11" height="1" fill="#FDDBD7"/><rect x="24" y="30" width="2" height="1" fill="#141416"/><rect x="28" y="30" width="2" height="1" fill="#F7A08F"/><rect x="13" y="31" width="1" height="1" fill="#141416"/><rect x="14" y="31" width="9" height="1" fill="#FDDBD7"/><rect x="23" y="31" width="1" height="1" fill="#141416"/><rect x="24" y="31" width="1" height="1" fill="#FDDBD7"/><rect x="25" y="31" width="1" height="1" fill="#141416"/><rect x="29" y="31" width="1" height="1" fill="#F7A08F"/><rect x="32" y="31" width="1" height="1" fill="#F7A08F"/><rect x="14" y="32" width="1" height="1" fill="#141416"/><rect x="15" y="32" width="7" height="1" fill="#FDDBD7"/><rect x="22" y="32" width="1" height="1" fill="#141416"/><rect x="23" y="32" width="2" height="1" fill="#FDDBD7"/><rect x="25" y="32" width="1" height="1" fill="#141416"/><rect x="30" y="32" width="1" height="1" fill="#F7A08F"/><rect x="32" y="32" width="1" height="1" fill="#F7A08F"/><rect x="14" y="33" width="2" height="1" fill="#141416"/><rect x="16" y="33" width="5" height="1" fill="#FDDBD7"/><rect x="21" y="33" width="1" height="1" fill="#141416"/><rect x="22" y="33" width="4" height="1" fill="#FDDBD7"/><rect x="26" y="33" width="1" height="1" fill="#141416"/><rect x="30" y="33" width="1" height="1" fill="#F7A08F"/><rect x="33" y="33" width="1" height="1" fill="#F7A08F"/><rect x="14" y="34" width="1" height="1" fill="#141416"/><rect x="15" y="34" width="1" height="1" fill="#FDDBD7"/><rect x="16" y="34" width="5" height="1" fill="#141416"/><rect x="21" y="34" width="5" height="1" fill="#FDDBD7"/><rect x="26" y="34" width="1" height="1" fill="#141416"/><rect x="31" y="34" width="1" height="1" fill="#F7A08F"/><rect x="34" y="34" width="1" height="1" fill="#F7A08F"/><rect x="14" y="35" width="1" height="1" fill="#141416"/><rect x="15" y="35" width="1" height="1" fill="#FDDBD7"/><rect x="16" y="35" width="5" height="1" fill="#F8CFCB"/><rect x="21" y="35" width="4" height="1" fill="#FDDBD7"/><rect x="25" y="35" width="3" height="1" fill="#141416"/><rect x="31" y="35" width="1" height="1" fill="#F7A08F"/><rect x="14" y="36" width="1" height="1" fill="#141416"/><rect x="15" y="36" width="9" height="1" fill="#FDDBD7"/><rect x="24" y="36" width="6" height="1" fill="#141416"/><rect x="14" y="37" width="1" height="1" fill="#141416"/><rect x="15" y="37" width="8" height="1" fill="#FDDBD7"/><rect x="23" y="37" width="8" height="1" fill="#141416"/><rect x="13" y="38" width="3" height="1" fill="#141416"/><rect x="16" y="38" width="6" height="1" fill="#FDDBD7"/><rect x="22" y="38" width="11" height="1" fill="#141416"/><rect x="12" y="39" width="23" height="1" fill="#141416"/></g></svg>
<div class="abs" style="left:499.3px;top:2017.4px;width:346.0px;height:93.7px;background:#fff;border:4px solid #1B1B1F;border-radius:18px"></div>
<svg style="left:508px;top:2023.4px" width="80" height="80" viewBox="0 0 80 80"><defs><linearGradient id="rh2023" x1="0" y1="1" x2="1" y2="0"><stop offset="0" stop-color="#5B35F5"/><stop offset="1" stop-color="#F37CF7"/></linearGradient><linearGradient id="rs2023" x1="0" y1="1" x2="1" y2="0"><stop offset="0" stop-color="#6A3CF2"/><stop offset="1" stop-color="#D97CF6"/></linearGradient></defs><circle cx="30.3" cy="26.5" r="13.4" fill="url(#rh2023)"/><path d="M14.6,24.4 H32.2 M37.9,24.4 H45.8" stroke="#2A1166" stroke-width="1.9" stroke-linecap="round"/><path d="M19.5,44.2 H42 Q50.5,44.2 50.5,52 V62 Q50.5,66.6 46,66.6 H14.5 Q10.1,66.6 10.1,62 V53.6 Q10.1,44.2 19.5,44.2 Z" fill="#F5A8FA"/><g stroke="url(#rs2023)" stroke-width="2.4" fill="#EBD8FB"><rect x="45.4" y="45.5" width="7.2" height="6.8" rx="1"/><rect x="38.3" y="60.2" width="7.2" height="7.2" rx="1"/><rect x="53.2" y="60.2" width="7.2" height="7.2" rx="1"/></g><path d="M49,53.5 V56 M41.9,59 V56 H56.8 V59" stroke="url(#rs2023)" stroke-width="2.2" fill="none"/></svg>
<svg style="left:0;top:0" width="4184" height="2854"><g fill="none" stroke="#1B1B1F" stroke-width="3.7" stroke-linecap="round" stroke-linejoin="round"><circle cx="892" cy="822.5" r="12"/><path d="M904,822.5 H1078"/><path d="M1065,808.5 L1079,822.5 L1065,836.5"/><circle cx="892" cy="2165.9" r="12"/><path d="M904,2165.9 H1078"/><path d="M1065,2151.9 L1079,2165.9 L1065,2179.9"/><circle cx="2092" cy="532" r="12"/><circle cx="2092" cy="2000" r="12"/><path d="M2104,532 H2225 A15,15 0 0 1 2240,547 V1985 A15,15 0 0 1 2225,2000 H2104"/><circle cx="2253" cy="1287" r="12"/><path d="M2265,1287 H2638"/><path d="M2624.5,1272.5 L2639,1287 L2624.5,1301.5"/></g></svg>
<div class="abs" style="left:2640px;top:932px;width:1381px;height:885px;background:#FDFDFE;border:4px solid #2B2B2F;border-radius:22px"></div>
<div class="abs" style="left:2679.8px;top:972px;width:24px;height:24px;border-radius:12px;background:#F25D52"></div>
<div class="abs" style="left:2727.8px;top:972px;width:24px;height:24px;border-radius:12px;background:#F9B759"></div>
<div class="abs" style="left:2775.8px;top:972px;width:24px;height:24px;border-radius:12px;background:#6CC06C"></div>
<div class="abs" style="left:2680.4px;top:1036px;width:340.6px;height:191.2px;background:#F4F5F7;border-radius:14px;box-shadow:0 1px 5px rgba(40,40,60,0.05)"></div>
<svg style="left:2696.2px;top:1052px" width="71.6" height="71.6" viewBox="0 0 40 40" shape-rendering="crispEdges"><defs><clipPath id="av26961052"><rect width="40" height="40" rx="4.40" shape-rendering="geometricPrecision"/></clipPath></defs><g clip-path="url(#av26961052)"><rect width="40" height="40" fill="#FCDCAE"/><rect x="18" y="3" width="3" height="1" fill="#141416"/><rect x="16" y="4" width="2" height="1" fill="#141416"/><rect x="18" y="4" width="3" height="1" fill="#F68E7E"/><rect x="21" y="4" width="2" height="1" fill="#141416"/><rect x="15" y="5" width="1" height="1" fill="#141416"/><rect x="16" y="5" width="7" height="1" fill="#F68E7E"/><rect x="23" y="5" width="1" height="1" fill="#141416"/><rect x="13" y="6" width="4" height="1" fill="#141416"/><rect x="17" y="6" width="2" height="1" fill="#F68E7E"/><rect x="19" y="6" width="2" height="1" fill="#141416"/><rect x="21" y="6" width="2" height="1" fill="#F68E7E"/><rect x="23" y="6" width="2" height="1" fill="#141416"/><rect x="12" y="7" width="1" height="1" fill="#141416"/><rect x="13" y="7" width="12" height="1" fill="#F68E7E"/><rect x="25" y="7" width="2" height="1" fill="#141416"/><rect x="11" y="8" width="1" height="1" fill="#141416"/><rect x="12" y="8" width="7" height="1" fill="#F68E7E"/><rect x="19" y="8" width="1" height="1" fill="#141416"/><rect x="20" y="8" width="7" height="1" fill="#F68E7E"/><rect x="27" y="8" width="1" height="1" fill="#141416"/><rect x="10" y="9" width="1" height="1" fill="#141416"/><rect x="11" y="9" width="5" height="1" fill="#F68E7E"/><rect x="16" y="9" width="3" height="1" fill="#141416"/><rect x="19" y="9" width="1" height="1" fill="#FDDBD7"/><rect x="20" y="9" width="1" height="1" fill="#141416"/><rect x="21" y="9" width="7" height="1" fill="#F68E7E"/><rect x="28" y="9" width="1" height="1" fill="#141416"/><rect x="9" y="10" width="1" height="1" fill="#141416"/><rect x="10" y="10" width="4" height="1" fill="#F68E7E"/><rect x="14" y="10" width="2" height="1" fill="#141416"/><rect x="16" y="10" width="5" height="1" fill="#FDDBD7"/><rect x="21" y="10" width="2" height="1" fill="#141416"/><rect x="23" y="10" width="6" height="1" fill="#F68E7E"/><rect x="29" y="10" width="1" height="1" fill="#141416"/><rect x="9" y="11" width="1" height="1" fill="#141416"/><rect x="10" y="11" width="3" height="1" fill="#F68E7E"/><rect x="13" y="11" width="1" height="1" fill="#141416"/><rect x="14" y="11" width="9" height="1" fill="#FDDBD7"/><rect x="23" y="11" width="2" height="1" fill="#141416"/><rect x="25" y="11" width="4" height="1" fill="#F68E7E"/><rect x="29" y="11" width="1" height="1" fill="#141416"/><rect x="9" y="12" width="1" height="1" fill="#141416"/><rect x="10" y="12" width="2" height="1" fill="#F68E7E"/><rect x="12" y="12" width="1" height="1" fill="#141416"/><rect x="13" y="12" width="12" height="1" fill="#FDDBD7"/><rect x="25" y="12" width="1" height="1" fill="#141416"/><rect x="26" y="12" width="4" height="1" fill="#F68E7E"/><rect x="30" y="12" width="1" height="1" fill="#141416"/><rect x="8" y="13" width="1" height="1" fill="#141416"/><rect x="9" y="13" width="2" height="1" fill="#F68E7E"/><rect x="11" y="13" width="1" height="1" fill="#141416"/><rect x="12" y="13" width="14" height="1" fill="#FDDBD7"/><rect x="26" y="13" width="1" height="1" fill="#141416"/><rect x="27" y="13" width="3" height="1" fill="#F68E7E"/><rect x="30" y="13" width="1" height="1" fill="#141416"/><rect x="8" y="14" width="1" height="1" fill="#141416"/><rect x="9" y="14" width="1" height="1" fill="#F68E7E"/><rect x="10" y="14" width="1" height="1" fill="#141416"/><rect x="11" y="14" width="16" height="1" fill="#FDDBD7"/><rect x="27" y="14" width="1" height="1" fill="#141416"/><rect x="28" y="14" width="2" height="1" fill="#F68E7E"/><rect x="30" y="14" width="1" height="1" fill="#141416"/><rect x="8" y="15" width="1" height="1" fill="#141416"/><rect x="9" y="15" width="1" height="1" fill="#F68E7E"/><rect x="10" y="15" width="1" height="1" fill="#141416"/><rect x="11" y="15" width="16" height="1" fill="#FDDBD7"/><rect x="27" y="15" width="1" height="1" fill="#141416"/><rect x="28" y="15" width="2" height="1" fill="#F68E7E"/><rect x="30" y="15" width="1" height="1" fill="#141416"/><rect x="8" y="16" width="1" height="1" fill="#141416"/><rect x="9" y="16" width="1" height="1" fill="#F68E7E"/><rect x="10" y="16" width="1" height="1" fill="#141416"/><rect x="11" y="16" width="16" height="1" fill="#FDDBD7"/><rect x="27" y="16" width="1" height="1" fill="#141416"/><rect x="28" y="16" width="2" height="1" fill="#F68E7E"/><rect x="30" y="16" width="1" height="1" fill="#141416"/><rect x="8" y="17" width="2" height="1" fill="#141416"/><rect x="10" y="17" width="3" height="1" fill="#FDDBD7"/><rect x="13" y="17" width="3" height="1" fill="#141416"/><rect x="16" y="17" width="4" height="1" fill="#FDDBD7"/><rect x="20" y="17" width="3" height="1" fill="#141416"/><rect x="23" y="17" width="5" height="1" fill="#FDDBD7"/><rect x="28" y="17" width="1" height="1" fill="#141416"/><rect x="29" y="17" width="1" height="1" fill="#F68E7E"/><rect x="30" y="17" width="1" height="1" fill="#141416"/><rect x="8" y="18" width="2" height="1" fill="#141416"/><rect x="10" y="18" width="2" height="1" fill="#FDDBD7"/><rect x="12" y="18" width="1" height="1" fill="#141416"/><rect x="13" y="18" width="10" height="1" fill="#FDDBD7"/><rect x="23" y="18" width="1" height="1" fill="#141416"/><rect x="24" y="18" width="4" height="1" fill="#FDDBD7"/><rect x="28" y="18" width="3" height="1" fill="#141416"/><rect x="8" y="19" width="2" height="1" fill="#141416"/><rect x="10" y="19" width="3" height="1" fill="#FDDBD7"/><rect x="13" y="19" width="2" height="1" fill="#141416"/><rect x="15" y="19" width="6" height="1" fill="#FDDBD7"/><rect x="21" y="19" width="2" height="1" fill="#141416"/><rect x="23" y="19" width="5" height="1" fill="#FDDBD7"/><rect x="28" y="19" width="3" height="1" fill="#141416"/><rect x="8" y="20" width="2" height="1" fill="#141416"/><rect x="10" y="20" width="2" height="1" fill="#FDDBD7"/><rect x="12" y="20" width="1" height="1" fill="#141416"/><rect x="13" y="20" width="2" height="1" fill="#FDDBD7"/><rect x="15" y="20" width="1" height="1" fill="#141416"/><rect x="16" y="20" width="4" height="1" fill="#FDDBD7"/><rect x="20" y="20" width="1" height="1" fill="#141416"/><rect x="21" y="20" width="2" height="1" fill="#FDDBD7"/><rect x="23" y="20" width="1" height="1" fill="#141416"/><rect x="24" y="20" width="4" height="1" fill="#FDDBD7"/><rect x="28" y="20" width="2" height="1" fill="#141416"/><rect x="30" y="20" width="1" height="1" fill="#FCEDE8"/><rect x="31" y="20" width="1" height="1" fill="#141416"/><rect x="7" y="21" width="1" height="1" fill="#141416"/><rect x="8" y="21" width="1" height="1" fill="#FCEDE8"/><rect x="9" y="21" width="1" height="1" fill="#141416"/><rect x="10" y="21" width="18" height="1" fill="#FDDBD7"/><rect x="28" y="21" width="1" height="1" fill="#141416"/><rect x="29" y="21" width="2" height="1" fill="#FCEDE8"/><rect x="31" y="21" width="1" height="1" fill="#141416"/><rect x="7" y="22" width="1" height="1" fill="#141416"/><rect x="8" y="22" width="1" height="1" fill="#FCEDE8"/><rect x="9" y="22" width="1" height="1" fill="#141416"/><rect x="10" y="22" width="2" height="1" fill="#FDDBD7"/><rect x="12" y="22" width="2" height="1" fill="#F8BAB6"/><rect x="14" y="22" width="9" height="1" fill="#FDDBD7"/><rect x="23" y="22" width="2" height="1" fill="#F8BAB6"/><rect x="25" y="22" width="3" height="1" fill="#FDDBD7"/><rect x="28" y="22" width="1" height="1" fill="#141416"/><rect x="29" y="22" width="2" height="1" fill="#FCEDE8"/><rect x="31" y="22" width="1" height="1" fill="#141416"/><rect x="7" y="23" width="1" height="1" fill="#141416"/><rect x="8" y="23" width="1" height="1" fill="#FCEDE8"/><rect x="9" y="23" width="1" height="1" fill="#141416"/><rect x="10" y="23" width="18" height="1" fill="#FDDBD7"/><rect x="28" y="23" width="1" height="1" fill="#141416"/><rect x="29" y="23" width="2" height="1" fill="#FCEDE8"/><rect x="31" y="23" width="1" height="1" fill="#141416"/><rect x="7" y="24" width="1" height="1" fill="#141416"/><rect x="8" y="24" width="1" height="1" fill="#FCEDE8"/><rect x="9" y="24" width="1" height="1" fill="#141416"/><rect x="10" y="24" width="6" height="1" fill="#FDDBD7"/><rect x="16" y="24" width="2" height="1" fill="#141416"/><rect x="18" y="24" width="10" height="1" fill="#FDDBD7"/><rect x="28" y="24" width="1" height="1" fill="#141416"/><rect x="29" y="24" width="1" height="1" fill="#FCEDE8"/><rect x="30" y="24" width="1" height="1" fill="#141416"/><rect x="8" y="25" width="2" height="1" fill="#141416"/><rect x="10" y="25" width="18" height="1" fill="#FDDBD7"/><rect x="28" y="25" width="2" height="1" fill="#141416"/><rect x="30" y="25" width="2" height="1" fill="#F7A08F"/><rect x="9" y="26" width="2" height="1" fill="#141416"/><rect x="11" y="26" width="4" height="1" fill="#FDDBD7"/><rect x="15" y="26" width="1" height="1" fill="#141416"/><rect x="16" y="26" width="5" height="1" fill="#FDDBD7"/><rect x="21" y="26" width="1" height="1" fill="#141416"/><rect x="22" y="26" width="5" height="1" fill="#FDDBD7"/><rect x="27" y="26" width="1" height="1" fill="#141416"/><rect x="28" y="26" width="3" height="1" fill="#F7A08F"/><rect x="10" y="27" width="1" height="1" fill="#141416"/><rect x="11" y="27" width="5" height="1" fill="#FDDBD7"/><rect x="16" y="27" width="5" height="1" fill="#141416"/><rect x="21" y="27" width="6" height="1" fill="#FDDBD7"/><rect x="27" y="27" width="1" height="1" fill="#141416"/><rect x="28" y="27" width="1" height="1" fill="#F7A08F"/><rect x="30" y="27" width="2" height="1" fill="#F7A08F"/><rect x="8" y="28" width="1" height="1" fill="#F7A08F"/><rect x="11" y="28" width="1" height="1" fill="#141416"/><rect x="12" y="28" width="14" height="1" fill="#FDDBD7"/><rect x="26" y="28" width="1" height="1" fill="#141416"/><rect x="28" y="28" width="1" height="1" fill="#F7A08F"/><rect x="30" y="28" width="2" height="1" fill="#F7A08F"/><rect x="8" y="29" width="1" height="1" fill="#F7A08F"/><rect x="11" y="29" width="1" height="1" fill="#141416"/><rect x="12" y="29" width="13" height="1" fill="#FDDBD7"/><rect x="25" y="29" width="1" height="1" fill="#141416"/><rect x="28" y="29" width="1" height="1" fill="#F7A08F"/><rect x="30" y="29" width="1" height="1" fill="#F7A08F"/><rect x="9" y="30" width="1" height="1" fill="#F7A08F"/><rect x="12" y="30" width="1" height="1" fill="#141416"/><rect x="13" y="30" width="11" height="1" fill="#FDDBD7"/><rect x="24" y="30" width="2" height="1" fill="#141416"/><rect x="28" y="30" width="2" height="1" fill="#F7A08F"/><rect x="13" y="31" width="1" height="1" fill="#141416"/><rect x="14" y="31" width="9" height="1" fill="#FDDBD7"/><rect x="23" y="31" width="1" height="1" fill="#141416"/><rect x="24" y="31" width="1" height="1" fill="#FDDBD7"/><rect x="25" y="31" width="1" height="1" fill="#141416"/><rect x="29" y="31" width="1" height="1" fill="#F7A08F"/><rect x="32" y="31" width="1" height="1" fill="#F7A08F"/><rect x="14" y="32" width="1" height="1" fill="#141416"/><rect x="15" y="32" width="7" height="1" fill="#FDDBD7"/><rect x="22" y="32" width="1" height="1" fill="#141416"/><rect x="23" y="32" width="2" height="1" fill="#FDDBD7"/><rect x="25" y="32" width="1" height="1" fill="#141416"/><rect x="30" y="32" width="1" height="1" fill="#F7A08F"/><rect x="32" y="32" width="1" height="1" fill="#F7A08F"/><rect x="14" y="33" width="2" height="1" fill="#141416"/><rect x="16" y="33" width="5" height="1" fill="#FDDBD7"/><rect x="21" y="33" width="1" height="1" fill="#141416"/><rect x="22" y="33" width="4" height="1" fill="#FDDBD7"/><rect x="26" y="33" width="1" height="1" fill="#141416"/><rect x="30" y="33" width="1" height="1" fill="#F7A08F"/><rect x="33" y="33" width="1" height="1" fill="#F7A08F"/><rect x="14" y="34" width="1" height="1" fill="#141416"/><rect x="15" y="34" width="1" height="1" fill="#FDDBD7"/><rect x="16" y="34" width="5" height="1" fill="#141416"/><rect x="21" y="34" width="5" height="1" fill="#FDDBD7"/><rect x="26" y="34" width="1" height="1" fill="#141416"/><rect x="31" y="34" width="1" height="1" fill="#F7A08F"/><rect x="34" y="34" width="1" height="1" fill="#F7A08F"/><rect x="14" y="35" width="1" height="1" fill="#141416"/><rect x="15" y="35" width="1" height="1" fill="#FDDBD7"/><rect x="16" y="35" width="5" height="1" fill="#F8CFCB"/><rect x="21" y="35" width="4" height="1" fill="#FDDBD7"/><rect x="25" y="35" width="3" height="1" fill="#141416"/><rect x="31" y="35" width="1" height="1" fill="#F7A08F"/><rect x="14" y="36" width="1" height="1" fill="#141416"/><rect x="15" y="36" width="9" height="1" fill="#FDDBD7"/><rect x="24" y="36" width="6" height="1" fill="#141416"/><rect x="14" y="37" width="1" height="1" fill="#141416"/><rect x="15" y="37" width="8" height="1" fill="#FDDBD7"/><rect x="23" y="37" width="8" height="1" fill="#141416"/><rect x="13" y="38" width="3" height="1" fill="#141416"/><rect x="16" y="38" width="6" height="1" fill="#FDDBD7"/><rect x="22" y="38" width="11" height="1" fill="#141416"/><rect x="12" y="39" width="23" height="1" fill="#141416"/></g></svg>
<div class="abs" style="left:3096.5px;top:1035.1px;width:811.7px;height:150.8px;background:#F7F7F9;border-radius:10px;box-shadow:0 1px 5px rgba(40,40,60,0.04)"></div>
<div class="abs" style="left:3133.7px;top:1072.3px;width:340px;height:27.3px;background:#DADADA;border-radius:10px"></div>
<div class="abs" style="left:3133.7px;top:1126px;width:722.1px;height:27.7px;background:#DADADA;border-radius:10px"></div>
<svg style="left:0;top:0" width="4184" height="2854"><path fill="#F07EF6" d="M2721.10,1275.80 A41.2,41.2 0 0 1 2762.30,1317.00 A41.2,41.2 0 0 1 2721.10,1275.80 Z"/><path fill="#CDBFFB" d="M2721.10,1275.80 A41.2,41.2 0 0 0 2679.90,1317.00 A41.2,41.2 0 0 0 2721.10,1275.80 Z"/><path fill="#F07EF6" d="M2721.10,1358.20 A41.2,41.2 0 0 1 2679.90,1317.00 A41.2,41.2 0 0 1 2721.10,1358.20 Z"/><path fill="#CDBFFB" d="M2721.10,1358.20 A41.2,41.2 0 0 0 2762.30,1317.00 A41.2,41.2 0 0 0 2721.10,1358.20 Z"/></svg>
<svg style="left:0;top:0" width="4184" height="2854"><path fill="#5A30F0" d="M2679.90,1447.40 A41.2,41.2 0 0 1 2721.10,1406.20 L2721.10,1426.31 A21.0944,21.0944 0 0 0 2700.01,1447.40 Z"/><path fill="#A99BF8" d="M2679.90,1447.40 A41.2,41.2 0 0 0 2762.30,1447.40 L2742.19,1447.40 A21.0944,21.0944 0 0 1 2700.01,1447.40 Z"/><path fill="#CEC3FB" d="M2707.22,1447.40 A13.884400000000001,13.884400000000001 0 0 1 2734.98,1447.40 Z"/><path fill="#5A30F0" d="M2707.22,1447.40 A13.884400000000001,13.884400000000001 0 0 0 2734.98,1447.40 Z"/></svg>
<div class="abs" style="left:2680.2px;top:1537.3px;width:79.4px;height:79.2px;background:#C4C4C4;border-radius:16px"></div>
<div class="abs" style="left:2698.6px;top:1574.7px;width:42.6px;height:5px;background:#fff;border-radius:2px"></div>
<div class="abs" style="left:2717.4px;top:1556.3px;width:5px;height:41.7px;background:#fff;border-radius:2px"></div>
<svg style="left:0;top:0" width="4184" height="2854"><defs><linearGradient id="gcy" gradientUnits="userSpaceOnUse" x1="0" y1="1580.7" x2="0" y2="1750.7"><stop offset="0" stop-color="rgba(63,185,213,0.26)"/><stop offset="1" stop-color="rgba(63,185,213,0.04)"/></linearGradient><linearGradient id="grd" gradientUnits="userSpaceOnUse" x1="0" y1="1258.9" x2="0" y2="1750.7"><stop offset="0" stop-color="rgba(242,120,120,0.30)"/><stop offset="1" stop-color="rgba(242,120,120,0.04)"/></linearGradient><linearGradient id="gpu" gradientUnits="userSpaceOnUse" x1="0" y1="1623.2" x2="0" y2="1750.7"><stop offset="0" stop-color="rgba(110,100,235,0.26)"/><stop offset="1" stop-color="rgba(110,100,235,0.05)"/></linearGradient></defs><g stroke="#D0D0D4" stroke-width="1.8" stroke-dasharray="4 4" fill="none"><path d="M3098.7,1218.2 V1750.7"/><path d="M3300.8,1218.2 V1750.7"/><path d="M3502.8,1218.2 V1750.7"/><path d="M3704.9,1218.2 V1750.7"/><path d="M3907.0,1218.2 V1750.7"/><path d="M3098.7,1218.2 H3907"/><path d="M3098.7,1351.3 H3907"/><path d="M3098.7,1484.5 H3907"/><path d="M3098.7,1617.6 H3907"/></g><path d="M3097.70,1644.00 C3232.55,1644.00 3232.55,1601.80 3367.40,1601.80 C3502.30,1601.80 3502.30,1617.90 3637.20,1617.90 C3772.10,1617.90 3772.10,1580.70 3907.00,1580.70 L3907,1750.7 L3097.7,1750.7 Z" fill="url(#gcy)"/><path d="M3097.70,1644.00 C3232.55,1644.00 3232.55,1601.80 3367.40,1601.80 C3502.30,1601.80 3502.30,1617.90 3637.20,1617.90 C3772.10,1617.90 3772.10,1580.70 3907.00,1580.70" fill="none" stroke="#4DBFD8" stroke-width="2"/><circle cx="3097.7" cy="1644.0" r="6.6" fill="#fff" stroke="#4DBFD8" stroke-width="2"/><circle cx="3367.4" cy="1601.8" r="6.6" fill="#fff" stroke="#4DBFD8" stroke-width="2"/><circle cx="3637.2" cy="1617.9" r="6.6" fill="#fff" stroke="#4DBFD8" stroke-width="2"/><circle cx="3907" cy="1580.7" r="6.6" fill="#fff" stroke="#4DBFD8" stroke-width="2"/><path d="M3097.70,1649.50 C3232.55,1649.50 3232.55,1686.60 3367.40,1686.60 C3502.30,1686.60 3502.30,1301.00 3637.20,1301.00 C3772.10,1301.00 3772.10,1258.90 3907.00,1258.90 L3907,1750.7 L3097.7,1750.7 Z" fill="url(#grd)"/><path d="M3097.70,1649.50 C3232.55,1649.50 3232.55,1686.60 3367.40,1686.60 C3502.30,1686.60 3502.30,1301.00 3637.20,1301.00 C3772.10,1301.00 3772.10,1258.90 3907.00,1258.90" fill="none" stroke="#EF8C86" stroke-width="2"/><circle cx="3097.7" cy="1649.5" r="6.6" fill="#fff" stroke="#EF8C86" stroke-width="2"/><circle cx="3367.4" cy="1686.6" r="6.6" fill="#fff" stroke="#EF8C86" stroke-width="2"/><circle cx="3637.2" cy="1301.0" r="6.6" fill="#fff" stroke="#EF8C86" stroke-width="2"/><circle cx="3907" cy="1258.9" r="6.6" fill="#fff" stroke="#EF8C86" stroke-width="2"/><path d="M3097.70,1686.60 C3232.55,1686.60 3232.55,1623.20 3367.40,1623.20 C3502.30,1623.20 3502.30,1670.90 3637.20,1670.90 C3772.10,1670.90 3772.10,1654.60 3907.00,1654.60 L3907,1750.7 L3097.7,1750.7 Z" fill="url(#gpu)"/><path d="M3097.70,1686.60 C3232.55,1686.60 3232.55,1623.20 3367.40,1623.20 C3502.30,1623.20 3502.30,1670.90 3637.20,1670.90 C3772.10,1670.90 3772.10,1654.60 3907.00,1654.60" fill="none" stroke="#8273EF" stroke-width="2"/><circle cx="3097.7" cy="1686.6" r="6.6" fill="#fff" stroke="#8273EF" stroke-width="2"/><circle cx="3367.4" cy="1623.2" r="6.6" fill="#fff" stroke="#8273EF" stroke-width="2"/><circle cx="3637.2" cy="1670.9" r="6.6" fill="#fff" stroke="#8273EF" stroke-width="2"/><circle cx="3907" cy="1654.6" r="6.6" fill="#fff" stroke="#8273EF" stroke-width="2"/><path d="M3098.7,1750.7 H3907" stroke="#A9A9B0" stroke-width="2.5"/></svg>
<div class="t" style="left:129.14px;top:129.50px;font-size:87.211px;font-weight:700;color:#1B1B1F;transform:scaleX(0.9766)">B2B (SaaS) Software</div>
<div class="t" style="left:1476.42px;top:378.80px;font-size:48.587px;font-weight:700;color:#1B1B1F;transform:scaleX(0.9922)">Company Co.</div>
<div class="t" style="left:1363.19px;top:499.90px;font-size:40.254px;font-weight:400;color:#1B1B1F;-webkit-text-stroke:0.8px #1B1B1F;transform:scaleX(1.0542)">Sign in to your account</div>
<div class="t" style="left:1210.94px;top:582.70px;font-size:23.983px;font-weight:400;color:#EE7EF7;-webkit-text-stroke:0.2px #EE7EF7;transform:scaleX(1.0304)">Email</div>
<div class="t" style="left:1211.44px;top:744.30px;font-size:28.344px;font-weight:400;color:#6E6E72;transform:scaleX(1.0292)">Password</div>
<div class="t" style="left:1179.62px;top:825.20px;font-size:27.544px;font-weight:400;color:#EE7EF7;-webkit-text-stroke:0.35px #EE7EF7;transform:scaleX(1.0894)">Forgot password?</div>
<div class="t" style="left:1533.94px;top:920.90px;font-size:28.672px;font-weight:400;color:#FFFFFF;-webkit-text-stroke:0.3px #FFFFFF;transform:scaleX(1.0588)">Sign in</div>
<div class="t" style="left:1383.26px;top:1025.00px;font-size:28.925px;font-weight:400;color:#1B1B1F;-webkit-text-stroke:0.1px #1B1B1F;transform:scaleX(1.0180)">Not account?</div>
<div class="t" style="left:1568.74px;top:1025.50px;font-size:28.672px;font-weight:400;color:#EE7EF7;-webkit-text-stroke:0.3px #EE7EF7;transform:scaleX(1.0585)">Create account</div>
<div class="t" style="left:1565.99px;top:1094.20px;font-size:30.118px;font-weight:400;color:#6E6E72;transform:scaleX(1.0120)">or</div>
<div class="t" style="left:1434.84px;top:1193.10px;font-size:28.531px;font-weight:400;color:#1B1B1F;-webkit-text-stroke:0.4px #1B1B1F;transform:scaleX(1.0649)">Continue with Google</div>
<div class="t" style="left:1402.40px;top:1317.80px;font-size:25.364px;font-weight:400;color:#1B1B1F;-webkit-text-stroke:0.15px #1B1B1F;transform:scaleX(1.0041)">Terms of Use</div>
<div class="t" style="left:1599.42px;top:1317.80px;font-size:25.364px;font-weight:400;color:#1B1B1F;-webkit-text-stroke:0.15px #1B1B1F;transform:scaleX(0.9923)">Privacy Policy</div>
<div class="t" style="left:1461.27px;top:1604.60px;font-size:48.402px;font-weight:700;color:#1B1B1F;transform:scaleX(1.0260)">Agency</div>
<div class="t" style="left:1658.19px;top:1604.60px;font-size:48.402px;font-weight:700;color:#1B1B1F;transform:scaleX(1.0143)">ACME</div>
<div class="t" style="left:1363.19px;top:1725.90px;font-size:40.254px;font-weight:400;color:#1B1B1F;-webkit-text-stroke:0.8px #1B1B1F;transform:scaleX(1.0542)">Sign in to your account</div>
<div class="t" style="left:1210.94px;top:1808.70px;font-size:23.983px;font-weight:400;color:#5B35EE;-webkit-text-stroke:0.2px #5B35EE;transform:scaleX(1.0304)">Email</div>
<div class="t" style="left:1211.44px;top:1970.30px;font-size:28.344px;font-weight:400;color:#6E6E72;transform:scaleX(1.0292)">Password</div>
<div class="t" style="left:1179.62px;top:2051.20px;font-size:27.544px;font-weight:400;color:#5B35EE;-webkit-text-stroke:0.35px #5B35EE;transform:scaleX(1.0894)">Forgot password?</div>
<div class="t" style="left:1533.94px;top:2146.90px;font-size:28.672px;font-weight:400;color:#FFFFFF;-webkit-text-stroke:0.3px #FFFFFF;transform:scaleX(1.0588)">Sign in</div>
<div class="t" style="left:1383.26px;top:2251.00px;font-size:28.925px;font-weight:400;color:#1B1B1F;-webkit-text-stroke:0.1px #1B1B1F;transform:scaleX(1.0180)">Not account?</div>
<div class="t" style="left:1568.74px;top:2251.50px;font-size:28.672px;font-weight:400;color:#5B35EE;-webkit-text-stroke:0.3px #5B35EE;transform:scaleX(1.0585)">Create account</div>
<div class="t" style="left:1565.99px;top:2320.20px;font-size:30.118px;font-weight:400;color:#6E6E72;transform:scaleX(1.0120)">or</div>
<div class="t" style="left:1434.84px;top:2419.10px;font-size:28.531px;font-weight:400;color:#1B1B1F;-webkit-text-stroke:0.4px #1B1B1F;transform:scaleX(1.0649)">Continue with Google</div>
<div class="t" style="left:1402.40px;top:2543.80px;font-size:25.364px;font-weight:400;color:#1B1B1F;-webkit-text-stroke:0.15px #1B1B1F;transform:scaleX(1.0041)">Terms of Use</div>
<div class="t" style="left:1599.42px;top:2543.80px;font-size:25.364px;font-weight:400;color:#1B1B1F;-webkit-text-stroke:0.15px #1B1B1F;transform:scaleX(0.9923)">Privacy Policy</div>
<div class="t" style="left:291.36px;top:780.70px;font-size:36.299px;font-weight:400;color:#1B1B1F;-webkit-text-stroke:0.5px #1B1B1F;transform:scaleX(1.0716)">Catherine Wong</div>
<div class="t" style="left:292.44px;top:832.50px;font-size:31.728px;font-weight:400;color:#78787C;transform:scaleX(1.0556)">cwong@business.com</div>
<div class="t" style="left:616.64px;top:702.90px;font-size:36.774px;font-weight:400;color:#1B1B1F;-webkit-text-stroke:0.2px #1B1B1F;transform:scaleX(1.0523)">Role: Admin</div>
<div class="t" style="left:291.36px;top:2124.10px;font-size:36.299px;font-weight:400;color:#1B1B1F;-webkit-text-stroke:0.5px #1B1B1F;transform:scaleX(1.0716)">Catherine Wong</div>
<div class="t" style="left:292.44px;top:2175.90px;font-size:31.728px;font-weight:400;color:#78787C;transform:scaleX(1.0556)">cwong@business.com</div>
<div class="t" style="left:584.99px;top:2046.30px;font-size:36.774px;font-weight:400;color:#1B1B1F;-webkit-text-stroke:0.2px #1B1B1F;transform:scaleX(1.0373)">Role: Member</div>
<div class="t" style="left:2696.12px;top:1147.20px;font-size:27.966px;font-weight:400;color:#2A2A2E;-webkit-text-stroke:0.4px #2A2A2E;transform:scaleX(1.0759)">Catherine Wong</div>
<div class="t" style="left:2696.09px;top:1184.70px;font-size:22.740px;font-weight:400;color:#7E7E82;transform:scaleX(1.1067)">cwong@business.com</div>
<div class="t" style="left:2782.60px;top:1303.20px;font-size:31.356px;font-weight:400;color:#2A2A2E;-webkit-text-stroke:0.4px #2A2A2E;transform:scaleX(1.0979)">Company Co.</div>
<div class="t" style="left:2783.70px;top:1433.60px;font-size:31.541px;font-weight:400;color:#2A2A2E;-webkit-text-stroke:0.4px #2A2A2E;transform:scaleX(1.0718)">Agency ACME</div>
<div class="t" style="left:2782.30px;top:1564.00px;font-size:30.960px;font-weight:400;color:#2A2A2E;-webkit-text-stroke:0.4px #2A2A2E;transform:scaleX(1.1251)">Add workspace</div>
</body></html>
